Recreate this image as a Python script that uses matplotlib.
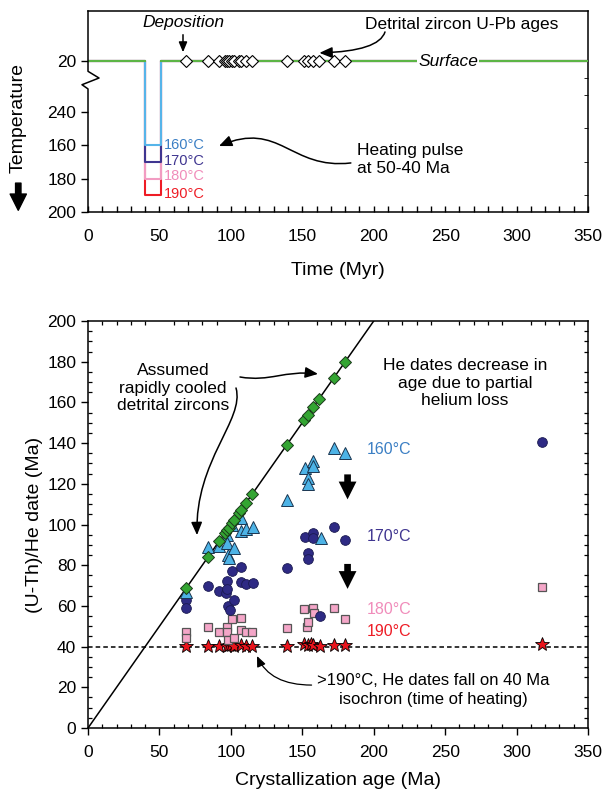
import numpy as np
import matplotlib
matplotlib.use("Agg")
import matplotlib.pyplot as plt
from matplotlib.patches import FancyArrowPatch
from matplotlib.path import Path
from matplotlib.ticker import MultipleLocator, FixedLocator

plt.rcParams["font.family"] = ["Liberation Sans", "DejaVu Sans"]

# ---- top panel data: thermal history ----
pulse_times = [0, 40, 40, 51, 51, 350]
pulse_temps = {160: [20, 20, 160, 160, 20, 20],
               170: [20, 20, 170, 170, 20, 20],
               180: [20, 20, 180, 180, 20, 20],
               190: [20, 20, 190, 190, 20, 20]}
surface_times = [0, 40, np.nan, 51, 350]
surface_temps = [20, 20, np.nan, 20, 20]
temp_ticks = [20, 140, 160, 180, 200]
temp_labels = ["20", "240", "160", "180", "200"]

# detrital zircon U-Pb ages (Ma) = rapidly cooled dates
upb_ages = [68.6, 84.2, 91.9, 95.7, 97.1, 98.5, 100.6, 102.2, 105.9, 107.1,
            110.6, 115.0, 139.1, 151.4, 153.8, 157.7, 161.9, 172.2, 179.9]

# ---- bottom panel data: He dates after heating ----
tri_age = [68.6, 84.2, 91.9, 97.1, 97.1, 97.8, 98.9, 100.8, 102.4, 106.9, 107.1,
           110.6, 115.3, 139.1, 151.9, 153.8, 153.8, 157.3, 157.7, 162.9, 172.2, 180.1]
tri_date = [67.0, 89.1, 89.4, 94.8, 90.7, 85.0, 83.4, 99.8, 88.5, 103.0, 97.0,
            97.6, 98.9, 112.0, 127.8, 122.7, 119.7, 131.4, 128.7, 93.2, 137.4, 135.3]

circ_age = [68.6, 68.6, 84.2, 91.9, 96.6, 97.1, 97.1, 98.2, 99.4, 100.8, 102.4,
            106.9, 106.9, 110.6, 115.3, 139.1, 151.9, 153.8, 153.8, 157.3, 157.7,
            162.4, 172.2, 180.1, 317.6]
circ_date = [62.9, 59.1, 69.8, 67.5, 66.5, 72.4, 68.3, 60.1, 58.0, 77.3, 62.9,
             79.3, 71.6, 70.8, 71.1, 78.7, 94.0, 86.1, 83.3, 96.0, 93.2,
             55.0, 98.9, 92.4, 140.7]

sq_age = [68.6, 68.6, 84.2, 91.9, 97.1, 97.1, 98.2, 101.0, 102.4, 106.9, 106.9,
          110.6, 115.0, 139.1, 151.4, 153.3, 153.8, 157.7, 158.4, 172.2, 180.1, 318.0]
sq_date = [47.0, 44.4, 49.8, 47.3, 49.8, 47.3, 43.2, 53.6, 44.1, 53.9, 48.2,
           47.3, 47.0, 49.3, 58.3, 49.8, 52.2, 58.8, 56.4, 58.8, 53.4, 69.4]

star_age = [68.6, 84.2, 91.9, 97.1, 98.7, 100.1, 102.4, 106.9, 110.6, 115.0,
            139.1, 151.4, 153.8, 156.1, 157.7, 162.4, 172.2, 180.1, 318.0]
star_date = [40.2, 40.5, 40.3, 40.5, 41.0, 40.6, 40.2, 40.8, 40.5, 40.3,
             40.4, 41.2, 40.9, 41.3, 40.7, 40.2, 41.0, 40.6, 41.1]

isochron = 40

COL = {160: "#56b4e9", 170: "#3f3590", 180: "#f29cc2", 190: "#ee1c25"}
TXT = {160: "#3b7fc4", 170: "#3f3590", 180: "#f08cba", 190: "#ee1c25"}
GREEN = "#5cb545"
BREAK = 90  # surface temps are shifted down past the axis break


def tpos(t):
    t = np.asarray(t, dtype=float)
    return np.where(t < 100, t + BREAK, t)


def curve_arrow(ax, verts, codes, lw=1.1, scale=11):
    arr = FancyArrowPatch(path=Path(verts, codes),
                          arrowstyle="-|>,head_length=0.7,head_width=0.3",
                          mutation_scale=scale, color="black", lw=lw)
    ax.add_patch(arr)


fig = plt.figure(figsize=(6.09, 7.98), dpi=100)
fig.patch.set_facecolor("white")

# ================= top panel =================
ax1 = fig.add_axes([0.1445, 0.7343, 0.821, 0.2519])
for T in [190, 180, 170, 160]:
    ax1.plot(pulse_times, tpos(pulse_temps[T]), color=COL[T], lw=1.5, zorder=2)
ax1.plot(surface_times, tpos(surface_temps), color=GREEN, lw=1.5, zorder=3)
ax1.plot(upb_ages, tpos([20] * len(upb_ages)), "D", ms=6, mfc="white",
         mec="black", mew=0.8, zorder=4)

ax1.set_xlim(0, 350)
ax1.set_ylim(200, 80)
ax1.set_yticks(tpos(temp_ticks))
ax1.set_yticklabels(temp_labels)
ax1.xaxis.set_major_locator(MultipleLocator(50))
ax1.xaxis.set_minor_locator(MultipleLocator(10))
ax1.yaxis.set_minor_locator(FixedLocator(np.arange(120, 201, 10)))
ax1.tick_params(axis="x", which="both", direction="in", labelsize=12.5,
                length=4, width=1, pad=12)
ax1.tick_params(axis="y", which="major", direction="out", labelsize=12.5,
                length=5, width=1)
ax1.tick_params(axis="y", which="minor", direction="in", left=False,
                right=True, length=3)
ax1.set_xlabel("Time (Myr)", fontsize=14, labelpad=13)
for sp in ax1.spines.values():
    sp.set_linewidth(1.1)

# broken left spine
ax1.spines["left"].set_visible(False)
yt = ax1.get_yaxis_transform()
ax1.plot([0, 0, 0.022, -0.012, 0, 0], [80, 116, 120, 124, 126.5, 200],
         color="black", lw=1.1, transform=yt, clip_on=False, zorder=5)

for T, yy in zip([160, 170, 180, 190], [160, 169.5, 178.5, 189.5]):
    ax1.text(53, yy, f"{T}°C", color=TXT[T], fontsize=10.5, va="center")

ax1.text(66.5, 86.6, "Deposition", fontsize=12.5, style="italic",
         ha="center", va="center")
ax1.annotate("", xy=(66.5, 106.3), xytext=(66.5, 92.5),
             arrowprops=dict(arrowstyle="-|>,head_length=0.6,head_width=0.25",
                             color="black", lw=1.1))
ax1.text(261.8, 87.8, "Detrital zircon U-Pb ages", fontsize=12.5,
         ha="center", va="center")
curve_arrow(ax1, [(207.9, 92.5), (203.7, 104.0), (162, 105)],
            [Path.MOVETO, Path.CURVE3, Path.CURVE3])
ax1.text(252, 110, "Surface", fontsize=12.5, style="italic", ha="center",
         va="center", zorder=6,
         bbox=dict(facecolor="white", edgecolor="none", pad=0.5))
ax1.text(188.3, 168.7, "Heating pulse\nat 50-40 Ma", fontsize=12.5,
         ha="left", va="center", linespacing=1.25)
curve_arrow(ax1, [(184, 170.7), (141.4, 174.9), (134.4, 145.1), (91.7, 160.6)],
            [Path.MOVETO, Path.CURVE4, Path.CURVE4, Path.CURVE4])

fig.text(0.030, 0.852, "Temperature", rotation=90, fontsize=14,
         ha="center", va="center")
fig.patches.append(FancyArrowPatch((0.030, 0.774), (0.030, 0.733),
                                   transform=fig.transFigure,
                                   arrowstyle="simple,head_length=0.9,head_width=0.9,tail_width=0.3",
                                   mutation_scale=13, color="black"))

# ================= bottom panel =================
ax2 = fig.add_axes([0.1445, 0.0877, 0.821, 0.51])
ax2.plot([0, 200], [0, 200], color="black", lw=1.1, zorder=2)
ax2.axhline(isochron, color="black", lw=1.1, ls=(0, (3, 2)), zorder=2)

ax2.plot(star_age, star_date, "*", ms=10, mfc="#e8141c", mec="black",
         mew=0.6, zorder=3, ls="none")
ax2.plot(sq_age, sq_date, "s", ms=6, mfc="#f4a6c8", mec="#555555",
         mew=0.9, zorder=4, ls="none")
ax2.plot(circ_age, circ_date, "o", ms=7, mfc="#2e2a84", mec="#1a1a50",
         mew=0.6, zorder=5, ls="none")
ax2.plot(tri_age, tri_date, "^", ms=8, mfc="#4db3e6", mec="#1a3550",
         mew=0.7, zorder=6, ls="none")
ax2.plot(upb_ages, upb_ages, "D", ms=6, mfc="#33a532", mec="#1a3a1a",
         mew=0.7, zorder=7, ls="none")

ax2.set_xlim(0, 350)
ax2.set_ylim(0, 200)
ax2.xaxis.set_major_locator(MultipleLocator(50))
ax2.xaxis.set_minor_locator(MultipleLocator(10))
ax2.yaxis.set_major_locator(MultipleLocator(20))
ax2.yaxis.set_minor_locator(MultipleLocator(5))
ax2.tick_params(which="major", direction="out", labelsize=12.5, length=5,
                width=1)
ax2.tick_params(axis="x", which="major", pad=7)
ax2.tick_params(which="minor", direction="in", length=3, width=0.9,
                top=True, right=True)
ax2.set_xlabel("Crystallization age (Ma)", fontsize=14, labelpad=9)
ax2.set_ylabel("(U-Th)/He date (Ma)", fontsize=14, labelpad=3)
for sp in ax2.spines.values():
    sp.set_linewidth(1.1)

ax2.text(59.5, 167, "Assumed\nrapidly cooled\ndetrital zircons", fontsize=12.5,
         ha="center", va="center", linespacing=1.2)
curve_arrow(ax2, [(106.4, 172.5), (127.4, 170), (137.9, 175.9), (161, 174)],
            [Path.MOVETO, Path.CURVE4, Path.CURVE4, Path.CURVE4])
curve_arrow(ax2, [(103.6, 167.1), (109.9, 151.4), (74.9, 131.7), (76.3, 94.8)],
            [Path.MOVETO, Path.CURVE4, Path.CURVE4, Path.CURVE4])

ax2.text(263.9, 169.5, "He dates decrease in\nage due to partial\nhelium loss",
         fontsize=12.5, ha="center", va="center", linespacing=1.2)

for T, yy in zip([160, 170, 180, 190], [137.1, 94.3, 58, 47.2]):
    ax2.text(210.7, yy, f"{T}°C", color=TXT[T], fontsize=11.5,
             ha="center", va="center")

for y0, y1 in [(126, 111), (82, 67)]:
    ax2.annotate("", xy=(181.7, y1), xytext=(181.7, y0),
                 arrowprops=dict(arrowstyle="simple,head_length=0.8,head_width=0.8,tail_width=0.3",
                                 mutation_scale=16, color="black", lw=0))

ax2.text(241.5, 18.7, ">190°C, He dates fall on 40 Ma\nisochron (time of heating)",
         fontsize=12, ha="center", va="center", linespacing=1.3)
curve_arrow(ax2, [(156.5, 21.1), (127.4, 21.1), (118.3, 35.4)],
            [Path.MOVETO, Path.CURVE3, Path.CURVE3], lw=0.9, scale=9)

fig.savefig("out.png", dpi=100)
